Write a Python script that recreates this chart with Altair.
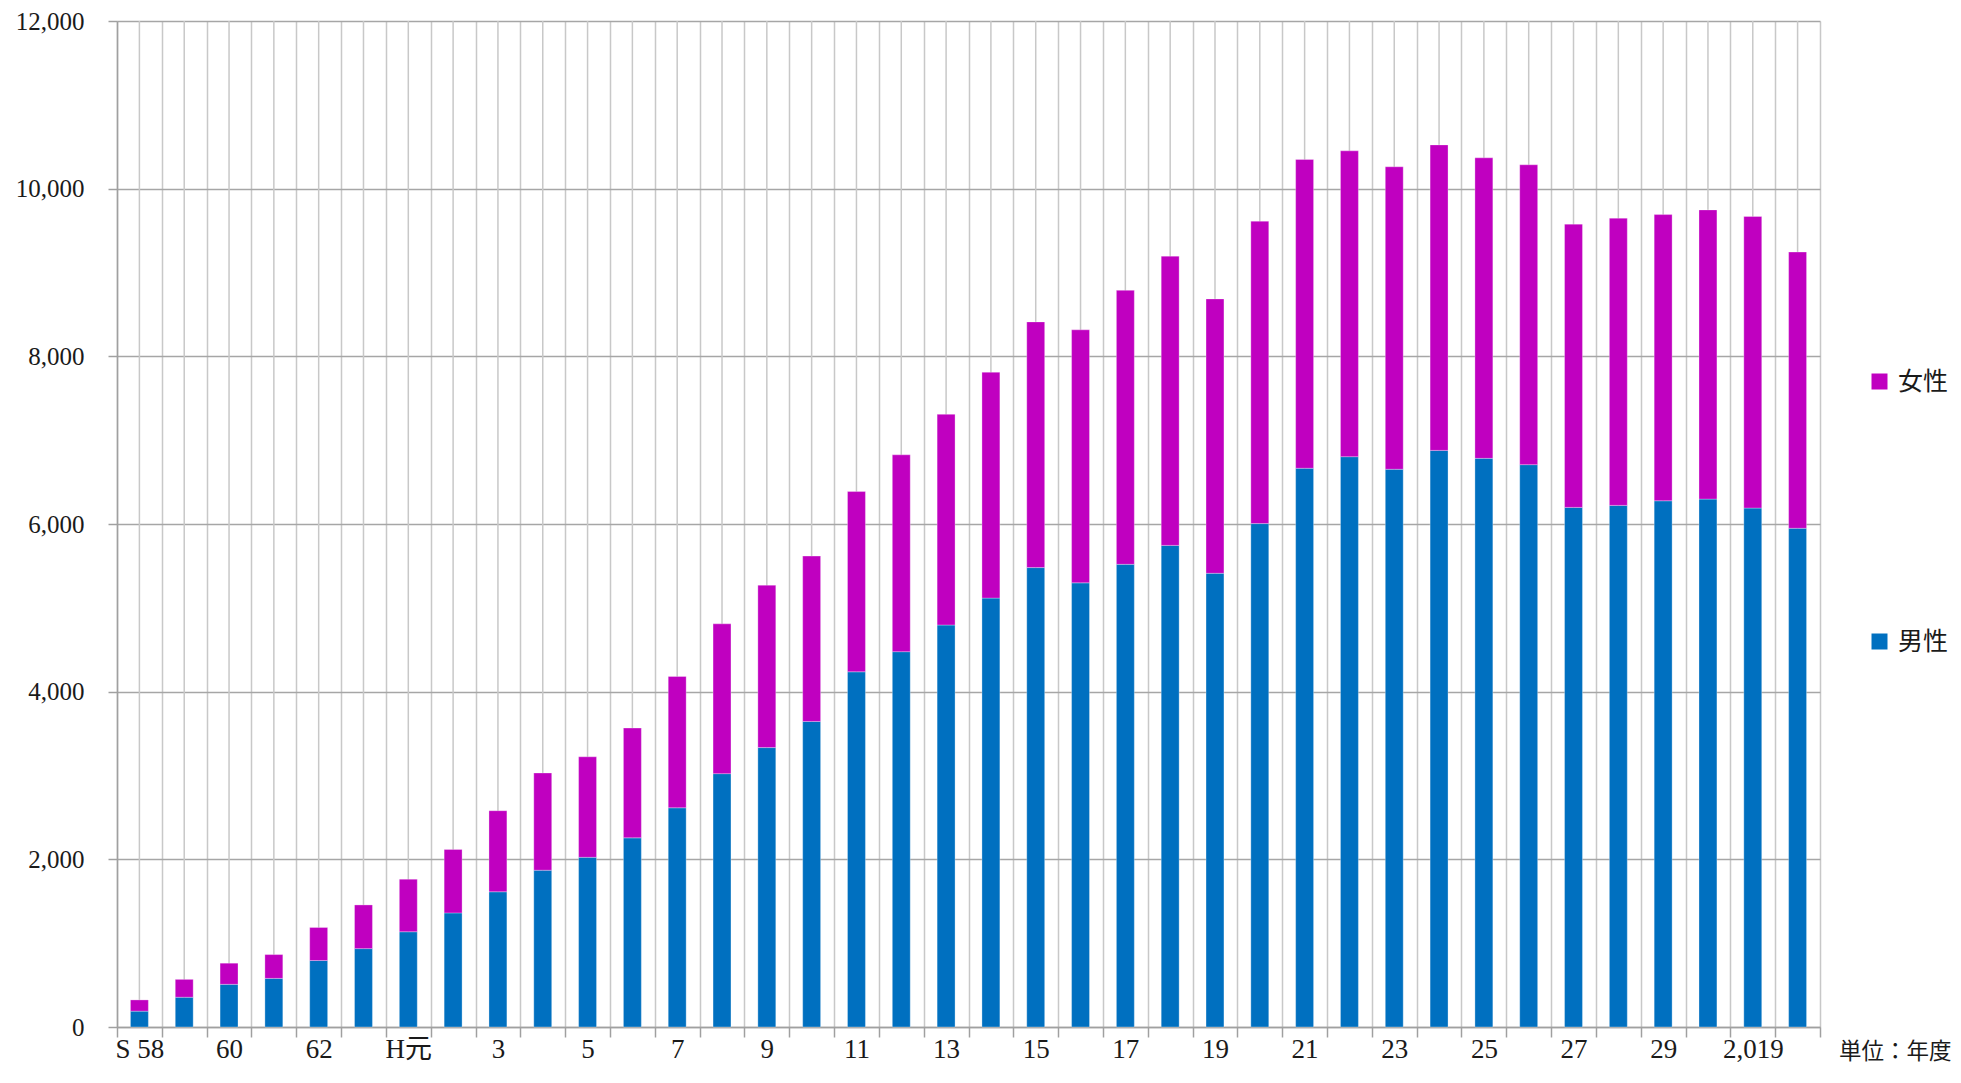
import altair as alt
import pandas as pd

years = ["S 58", "59", "60", "61", "62", "63", "H元", "2", "3", "4", "5", "6", "7", "8",
         "9", "10", "11", "12", "13", "14", "15", "16", "17", "18", "19", "20", "21",
         "22", "23", "24", "25", "26", "27", "28", "29", "30", "2,019", "2020"]

labeled = ["S 58", "60", "62", "H元", "3", "5", "7", "9", "11", "13", "15", "17",
           "19", "21", "23", "25", "27", "29", "2,019"]

male = [189, 355, 509, 580, 793, 935, 1136, 1361, 1613, 1870, 2024, 2256, 2615, 3022,
        3333, 3645, 4237, 4477, 4795, 5116, 5480, 5298, 5519, 5745, 5412, 6005, 6665,
        6803, 6653, 6878, 6783, 6708, 6198, 6222, 6277, 6297, 6190, 5949]

female = [134, 213, 252, 284, 394, 521, 627, 757, 967, 1160, 1199, 1310, 1566, 1787,
          1937, 1972, 2150, 2348, 2513, 2694, 2931, 3018, 3268, 3450, 3273, 3607, 3683,
          3648, 3608, 3644, 3585, 3577, 3379, 3426, 3414, 3450, 3478, 3295]

y_ticks = [0, 2000, 4000, 6000, 8000, 10000, 12000]
series = ["女性", "男性"]
colors = ["#C000C0", "#0070C0"]
unit_note = "単位：年度"

rows = []
for yr, m, f in zip(years, male, female):
    rows.append({"year": yr, "sex": "男性", "value": m, "ord": 0})
    rows.append({"year": yr, "sex": "女性", "value": f, "ord": 1})
df = pd.DataFrame(rows)

W, H = 1703, 1006
serif = "Liberation Serif, Noto Sans CJK JP"
label_list = ",".join("'" + s + "'" for s in labeled)

xscale = alt.Scale(paddingInner=0, paddingOuter=0)

center_lines = alt.Chart(pd.DataFrame({"year": years})).mark_rule(
    color="#c8c8c8", strokeWidth=1.5
).encode(
    x=alt.X("year:N", sort=years, scale=xscale),
    y=alt.value(0),
    y2=alt.value(H),
)

bars = alt.Chart(df).mark_bar(
    width=alt.RelativeBandSize(0.4), stroke="white", strokeWidth=0.5, strokeOpacity=0.6
).encode(
    x=alt.X(
        "year:N", sort=years, scale=xscale,
        axis=alt.Axis(
            title=None, labelAngle=0, tickBand="extent", grid=True,
            gridColor="#c8c8c8", gridWidth=1.5,
            domainColor="#a0a0a0", domainWidth=1.5,
            tickColor="#a0a0a0", tickWidth=1.5, tickSize=10,
            labelFont=serif, labelFontSize=27, labelColor="#1a1a1a",
            labelPadding=12, labelOverlap=False, labelAlign="center",
            labelExpr="indexof([" + label_list + "], datum.value) >= 0 ? datum.label : ''",
        ),
    ),
    y=alt.Y(
        "value:Q", stack="zero",
        scale=alt.Scale(domain=[0, 12000], nice=False),
        axis=alt.Axis(
            title=None, values=y_ticks, format=",.0f", grid=True,
            gridColor="#a6a6a6", gridWidth=1.5,
            domainColor="#a0a0a0", domainWidth=1.5,
            tickColor="#a0a0a0", tickWidth=1.5, tickSize=9,
            labelFont=serif, labelFontSize=25, labelColor="#1a1a1a",
            labelPadding=24,
        ),
    ),
    color=alt.Color(
        "sex:N",
        scale=alt.Scale(domain=series, range=colors),
        legend=alt.Legend(
            title=None, orient="none", legendX=1750, legendY=348,
            symbolType="square", symbolSize=256, symbolStrokeWidth=0,
            labelFont="Noto Sans CJK JP", labelFontSize=25, labelColor="#1a1a1a",
            rowPadding=234, labelOffset=6,
        ),
    ),
    order=alt.Order("ord:Q"),
)

note = alt.Chart(pd.DataFrame({"t": [unit_note]})).mark_text(
    align="left", baseline="middle", font="Noto Sans CJK JP", fontSize=22.5, color="#1a1a1a"
).encode(
    text="t:N",
    x=alt.value(1722),
    y=alt.value(1031),
)

chart = alt.layer(center_lines, bars, note).properties(
    width=W, height=H,
    autosize=alt.AutoSizeParams(type="none"),
    padding={"left": 109, "top": 13, "right": 133, "bottom": 46},
).configure_view(stroke=None)

chart.save("out.html", embed_options={"renderer": "svg", "actions": False})
